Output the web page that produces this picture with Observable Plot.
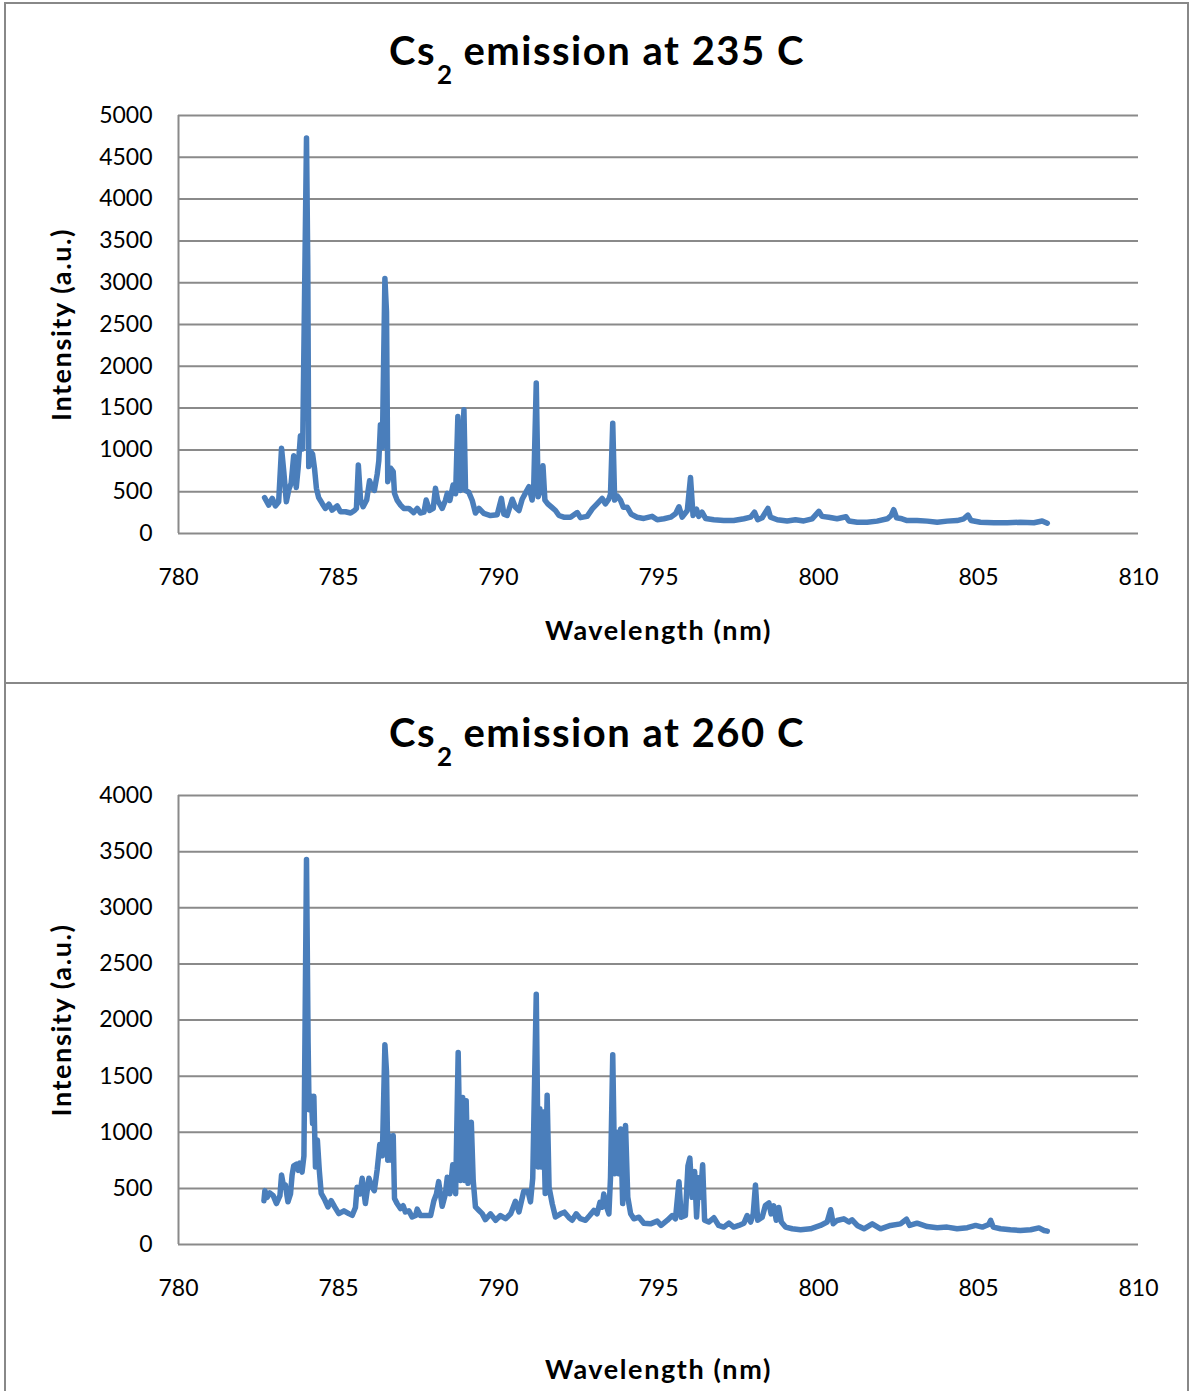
<!DOCTYPE html>
<html>
<head>
<meta charset="utf-8">
<script src="https://cdn.jsdelivr.net/npm/d3@7"></script>
<script src="https://cdn.jsdelivr.net/npm/@observablehq/plot@0.6"></script>
<style>
html, body { margin: 0; padding: 0; background: #fff; overflow: hidden; }
#page { position: relative; width: 1190px; height: 1391px; overflow: hidden; font-family: Lato, "Open Sans", sans-serif; }
.panel { position: absolute; left: 4px; width: 1185px; border: 2px solid #888; box-sizing: border-box; pointer-events: none; }
.title { position: absolute; left: 0; width: 1194px; text-align: center; font-weight: bold; font-size: 40px; line-height: 40px; letter-spacing: 1.5px; color: #000; white-space: nowrap; }
.title sub { font-size: 26px; vertical-align: -19px; line-height: 0; letter-spacing: 0; margin-left: 1px; }
.chart { position: absolute; left: 0; }
</style>
</head>
<body>
<div id="page">
  <div class="chart" id="c1"></div>
  <div class="chart" id="c2"></div>
  <div class="panel" style="top:2px;height:682px;"></div>
  <div class="panel" style="top:682px;height:730px;"></div>
  <div class="title" id="t1" style="top:30px;"></div>
  <div class="title" id="t2" style="top:712px;"></div>
</div>
<script>
// ---- data ----
const titles = ["emission at 235 C", "emission at 260 C"];
const xLabel = "Wavelength (nm)";
const yLabel = "Intensity (a.u.)";
const xTicks = [780, 785, 790, 795, 800, 805, 810];
const yTicks235 = [0, 500, 1000, 1500, 2000, 2500, 3000, 3500, 4000, 4500, 5000];
const yTicks260 = [0, 500, 1000, 1500, 2000, 2500, 3000, 3500, 4000];

const wavelength235 = [782.69,782.82,782.93,783.03,783.13,783.22,783.29,783.37,783.45,783.52,783.60,783.68,783.74,783.81,783.88,784.00,784.04,784.07,784.13,784.19,784.25,784.31,784.38,784.49,784.59,784.70,784.80,784.96,785.06,785.22,785.38,785.50,785.56,785.62,785.69,785.77,785.88,785.97,786.05,786.12,786.21,786.26,786.31,786.37,786.45,786.50,786.54,786.63,786.71,786.75,786.83,786.94,787.04,787.20,787.35,787.46,787.56,787.67,787.74,787.85,787.96,788.03,788.10,788.24,788.34,788.40,788.48,788.58,788.66,788.73,788.81,788.92,788.97,789.07,789.18,789.28,789.39,789.54,789.75,789.96,790.09,790.17,790.27,790.43,790.53,790.64,790.74,790.88,790.95,791.05,791.10,791.18,791.24,791.31,791.39,791.45,791.54,791.66,791.78,791.89,792.04,792.25,792.46,792.56,792.77,792.93,793.08,793.24,793.34,793.45,793.50,793.57,793.63,793.71,793.81,793.90,794.02,794.15,794.33,794.54,794.80,794.96,795.17,795.38,795.53,795.64,795.74,795.90,796.00,796.08,796.19,796.26,796.36,796.47,796.73,797.04,797.35,797.67,797.88,798.00,798.10,798.24,798.42,798.50,798.71,799.02,799.28,799.54,799.80,800.01,800.11,800.32,800.58,800.86,800.95,801.21,801.52,801.83,802.15,802.27,802.35,802.44,802.61,802.77,803.08,803.40,803.71,804.02,804.33,804.54,804.67,804.77,805.06,805.48,805.90,806.31,806.73,806.99,807.15];
const intensity235 = [430,340,420,330,380,1020,740,380,530,600,930,550,790,1170,1010,4730,3200,800,980,950,780,540,430,360,300,350,280,330,260,260,245,275,300,820,400,320,400,630,550,515,710,870,1300,1030,3050,2650,620,780,740,480,400,340,300,300,250,300,245,255,400,275,300,540,395,300,395,480,395,580,475,1400,515,1480,515,495,395,245,300,240,215,225,420,230,215,410,315,275,410,510,560,400,550,1800,440,515,810,400,355,315,275,215,195,195,250,190,205,295,355,420,355,415,470,1320,400,450,400,315,315,230,195,180,205,165,176,195,235,320,195,275,670,215,290,205,255,180,165,155,155,176,195,255,165,188,300,195,165,150,165,150,176,265,205,195,176,200,150,135,135,148,176,215,285,188,176,155,155,148,135,148,155,176,220,155,135,128,128,135,128,150,123];

const wavelength260 = [782.67,782.70,782.77,782.85,782.96,783.06,783.17,783.22,783.29,783.34,783.42,783.50,783.55,783.60,783.69,783.74,783.79,783.86,783.92,784.00,784.05,784.08,784.15,784.19,784.23,784.28,784.34,784.40,784.46,784.56,784.67,784.77,784.88,785.01,785.17,785.32,785.43,785.53,785.58,785.67,785.74,785.84,785.95,786.05,786.12,786.21,786.29,786.37,786.45,786.50,786.54,786.60,786.66,786.71,786.75,786.83,786.94,787.02,787.09,787.20,787.30,787.41,787.46,787.56,787.72,787.88,787.98,788.06,788.13,788.24,788.34,788.40,788.48,788.57,788.66,788.74,788.81,788.88,788.94,788.99,789.05,789.15,789.21,789.28,789.39,789.49,789.59,789.75,789.91,790.06,790.22,790.38,790.53,790.64,790.79,790.92,791.00,791.07,791.18,791.24,791.29,791.34,791.40,791.46,791.52,791.58,791.68,791.78,791.94,792.06,792.20,792.30,792.43,792.56,792.72,792.85,792.98,793.08,793.17,793.24,793.29,793.38,793.45,793.50,793.57,793.63,793.71,793.77,793.82,793.88,793.97,794.04,794.13,794.23,794.39,794.54,794.75,794.96,795.08,795.27,795.43,795.53,795.64,795.71,795.84,795.92,795.98,796.05,796.13,796.19,796.26,796.31,796.38,796.44,796.57,796.73,796.88,797.04,797.20,797.35,797.51,797.67,797.77,797.88,797.96,798.03,798.10,798.24,798.34,798.45,798.52,798.60,798.68,798.76,798.84,798.97,799.18,799.44,799.75,800.06,800.27,800.38,800.46,800.58,800.79,800.95,801.05,801.21,801.42,801.68,801.94,802.25,802.56,802.75,802.85,803.08,803.40,803.71,804.02,804.33,804.65,804.91,805.12,805.32,805.38,805.46,805.69,806.00,806.31,806.63,806.89,807.05,807.15];
const intensity260 = [390,480,420,460,435,365,435,620,510,530,380,450,620,700,715,660,725,645,790,3430,1800,1200,1320,1080,1320,690,930,660,455,405,335,390,335,275,300,275,260,330,510,450,590,365,590,510,480,670,890,790,1780,1540,750,970,750,970,410,365,320,345,290,300,245,258,315,258,258,258,390,450,560,340,450,600,452,710,452,1710,570,1310,570,1280,545,1090,570,335,303,275,222,273,216,258,230,273,385,290,475,475,380,590,2230,690,1210,690,1180,455,1330,510,362,245,273,288,240,216,273,230,216,258,303,273,375,332,450,332,273,595,1690,630,1000,630,1030,365,1060,421,273,229,243,190,184,208,170,214,258,229,560,243,258,700,770,421,650,245,595,421,710,216,200,238,170,155,190,155,170,190,258,200,273,530,216,243,347,370,273,345,216,330,200,155,140,131,140,170,200,310,185,214,229,200,220,170,140,184,140,170,184,225,170,190,160,150,155,140,150,170,155,178,215,155,140,131,125,131,148,125,119];

// ---- drawing ----
const lineColor = "#4a7ebb";
const gridColor = "#8a8a8a";

function makeChart(wl, inten, yTicks, yMax, height, marginBottom, xLabelOffset) {
  const data = wl.map((w, i) => ({w, v: inten[i]}));
  const svg = Plot.plot({
    width: 1190,
    height,
    marginTop: 115,
    marginBottom,
    marginLeft: 178,
    marginRight: 52,
    style: {background: "transparent", fontFamily: "Lato, 'Open Sans', sans-serif", fontSize: "23px", color: "#000", overflow: "visible"},
    x: {domain: [780, 810]},
    y: {domain: [0, yMax]},
    marks: [
      Plot.gridY(yTicks, {stroke: gridColor, strokeOpacity: 1, strokeWidth: 2}),
      Plot.ruleX([780], {stroke: gridColor, strokeOpacity: 1, strokeWidth: 2}),
      Plot.axisX({ticks: xTicks, tickSize: 0, tickPadding: 35, fontSize: 23, label: null, tickFormat: d3.format("d")}),
      Plot.axisY({ticks: yTicks, tickSize: 0, tickPadding: 26, fontSize: 23, label: null, tickFormat: d3.format("d")}),
      Plot.line(data, {x: "w", y: "v", stroke: lineColor, strokeWidth: 5.5, strokeLinejoin: "round", strokeLinecap: "round"}),
      Plot.text([xLabel], {text: d => d, frameAnchor: "bottom", textAnchor: "middle", lineAnchor: "middle", dy: xLabelOffset, fontWeight: "bold", fontSize: 27}),
      Plot.text([yLabel], {text: d => d, frameAnchor: "left", textAnchor: "middle", lineAnchor: "middle", dx: -116, rotate: -90, fontWeight: "bold", fontSize: 27})
    ]
  });
  d3.select(svg).selectAll("text").filter(function() {
    const t = this.textContent;
    return t === xLabel || t === yLabel;
  }).attr("letter-spacing", "1.6px");
  return svg;
}

const c1 = makeChart(wavelength235, intensity235, yTicks235, 5000, 683, 150, 98);
document.getElementById("c1").style.top = "0px";
document.getElementById("c1").appendChild(c1);

const c2 = makeChart(wavelength260, intensity260, yTicks260, 4000, 711, 147, 126);
document.getElementById("c2").style.top = "680px";
document.getElementById("c2").appendChild(c2);

function setTitle(id, rest) {
  const el = document.getElementById(id);
  el.innerHTML = "Cs<sub>2</sub> " + rest;
}
setTitle("t1", titles[0]);
setTitle("t2", titles[1]);
</script>
</body>
</html>
